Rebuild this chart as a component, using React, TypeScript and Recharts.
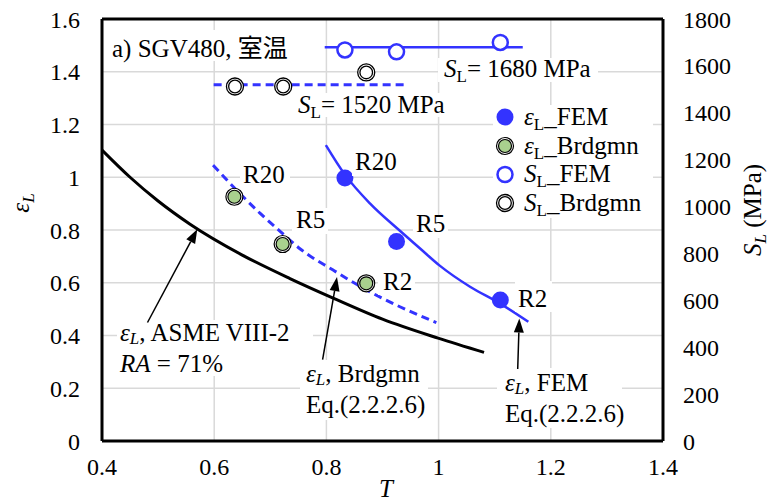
import React from 'react';
import { ComposedChart, Line, Scatter, XAxis, YAxis, CartesianGrid, ReferenceLine } from 'recharts';

const F = "'Liberation Serif', 'Times New Roman', 'Noto Sans CJK JP', serif";
const BLUE = '#3333FF';
const GREEN = '#A9D18E';

const xTicks = [0.4, 0.6, 0.8, 1, 1.2, 1.4];
const leftTicks = [0, 0.2, 0.4, 0.6, 0.8, 1, 1.2, 1.4, 1.6];
const rightTicks = [0, 200, 400, 600, 800, 1000, 1200, 1400, 1600, 1800];

// ASME VIII-2 curve (RA = 71%)
const asmeCurve = [
  { T: 0.4, eps: 1.103 },
  { T: 0.45, eps: 1.0 },
  { T: 0.5, eps: 0.91 },
  { T: 0.557, eps: 0.822 },
  { T: 0.65, eps: 0.705 },
  { T: 0.735, eps: 0.616 },
  { T: 0.812, eps: 0.542 },
  { T: 0.9, eps: 0.462 },
  { T: 0.999, eps: 0.39 },
  { T: 1.081, eps: 0.336 },
];

// Brdgmn Eq.(2.2.2.6) curve
const brdgmnCurve = [
  { T: 0.598, eps: 1.046 },
  { T: 0.634, eps: 0.964 },
  { T: 0.682, eps: 0.863 },
  { T: 0.718, eps: 0.794 },
  { T: 0.754, eps: 0.727 },
  { T: 0.812, eps: 0.648 },
  { T: 0.872, eps: 0.572 },
  { T: 0.931, eps: 0.509 },
  { T: 0.996, eps: 0.449 },
];

// FEM Eq.(2.2.2.6) curve
const femCurve = [
  { T: 0.799, eps: 1.122 },
  { T: 0.833, eps: 1.01 },
  { T: 0.878, eps: 0.9 },
  { T: 0.931, eps: 0.797 },
  { T: 0.967, eps: 0.73 },
  { T: 1.002, eps: 0.665 },
  { T: 1.056, eps: 0.585 },
  { T: 1.109, eps: 0.522 },
  { T: 1.16, eps: 0.452 },
];

const femPoints = [
  { T: 0.833, eps: 0.997 },
  { T: 0.925, eps: 0.756 },
  { T: 1.11, eps: 0.535 },
];
const brdgmnPoints = [
  { T: 0.636, eps: 0.926 },
  { T: 0.722, eps: 0.747 },
  { T: 0.871, eps: 0.598 },
];
const slFemPoints = [
  { T: 0.833, SL: 1668 },
  { T: 0.925, SL: 1660 },
  { T: 1.11, SL: 1700 },
];
const slBrdgmnPoints = [
  { T: 0.637, SL: 1512 },
  { T: 0.723, SL: 1512 },
  { T: 0.871, SL: 1572 },
];
const slFemLine = [
  { T: 0.797, SL: 1680 },
  { T: 1.15, SL: 1680 },
];
const slBrdgmnLine = [
  { T: 0.599, SL: 1520 },
  { T: 0.946, SL: 1520 },
];

const FemDot = (p: any) => <circle cx={p.cx} cy={p.cy} r={8.5} fill={BLUE} />;
const BrdgmnDot = (p: any) => (
  <g>
    <circle cx={p.cx} cy={p.cy} r={8.5} fill="#fff" stroke="#000" strokeWidth={1.2} />
    <circle cx={p.cx} cy={p.cy} r={6.5} fill={GREEN} stroke="#000" strokeWidth={1.2} />
  </g>
);
const SlFemDot = (p: any) => (
  <circle cx={p.cx} cy={p.cy} r={7.5} fill="#fff" stroke={BLUE} strokeWidth={2.5} />
);
const SlBrdgmnDot = (p: any) => (
  <g>
    <circle cx={p.cx} cy={p.cy} r={8.5} fill="#fff" stroke="#000" strokeWidth={1.3} />
    <circle cx={p.cx} cy={p.cy} r={6.3} fill="#fff" stroke="#000" strokeWidth={1.3} />
  </g>
);

function Arrow({ x1, y1, x2, y2 }: { x1: number; y1: number; x2: number; y2: number }) {
  const a = Math.atan2(y2 - y1, x2 - x1);
  const L = 14;
  const W = 5;
  const bx = x2 - L * Math.cos(a);
  const by = y2 - L * Math.sin(a);
  const px = -Math.sin(a) * W;
  const py = Math.cos(a) * W;
  return (
    <g>
      <line x1={x1} y1={y1} x2={bx} y2={by} stroke="#000" strokeWidth={1.5} />
      <polygon points={`${x2},${y2} ${bx + px},${by + py} ${bx - px},${by - py}`} fill="#000" />
    </g>
  );
}

const tickStyle = { fontSize: 24, fill: '#000', fontFamily: F };
const fmt = (v: number) => String(v);
const SUB = 17;

export default function App() {
  return (
    <div style={{ position: 'absolute', left: 0, top: 0, width: 769, height: 502, background: '#fff' }}>
      <ComposedChart
        width={769}
        height={502}
        margin={{ top: 19, right: 0, left: 0, bottom: 0 }}
        style={{ position: 'absolute', left: 0, top: 0 }}
      >
        <CartesianGrid yAxisId="L" stroke="#d9d9d9" strokeWidth={1.5} />
        <XAxis
          dataKey="T"
          type="number"
          domain={[0.4, 1.4]}
          ticks={xTicks}
          tickFormatter={fmt}
          height={61}
          tickSize={0}
          tickMargin={17}
          tick={tickStyle}
          axisLine={{ stroke: '#000', strokeWidth: 3 }}
          tickLine={false}
          allowDataOverflow
        />
        <YAxis
          yAxisId="L"
          type="number"
          domain={[0, 1.6]}
          ticks={leftTicks}
          tickFormatter={fmt}
          width={102}
          tickSize={0}
          tickMargin={22}
          tick={tickStyle}
          axisLine={{ stroke: '#000', strokeWidth: 3 }}
          tickLine={false}
          allowDataOverflow
        />
        <YAxis
          yAxisId="R"
          orientation="right"
          type="number"
          domain={[0, 1800]}
          ticks={rightTicks}
          tickFormatter={fmt}
          width={106}
          tickSize={0}
          tickMargin={20}
          tick={{ ...tickStyle, textAnchor: 'start' }}
          axisLine={{ stroke: '#000', strokeWidth: 3 }}
          tickLine={false}
          allowDataOverflow
        />
        <ReferenceLine yAxisId="L" y={1.6} stroke="#000" strokeWidth={3} />
        <Line data={asmeCurve} dataKey="eps" yAxisId="L" type="monotone" stroke="#000" strokeWidth={3} dot={false} activeDot={false} isAnimationActive={false} />
        <Line data={brdgmnCurve} dataKey="eps" yAxisId="L" type="monotone" stroke={BLUE} strokeWidth={3} strokeDasharray="8 5" dot={false} activeDot={false} isAnimationActive={false} />
        <Line data={femCurve} dataKey="eps" yAxisId="L" type="monotone" stroke={BLUE} strokeWidth={2.5} dot={false} activeDot={false} isAnimationActive={false} />
        <Line data={slFemLine} dataKey="SL" yAxisId="R" type="linear" stroke={BLUE} strokeWidth={2.5} dot={false} activeDot={false} isAnimationActive={false} />
        <Line data={slBrdgmnLine} dataKey="SL" yAxisId="R" type="linear" stroke={BLUE} strokeWidth={3} strokeDasharray="8 5" dot={false} activeDot={false} isAnimationActive={false} />
        <Scatter data={femPoints} dataKey="eps" yAxisId="L" shape={FemDot} isAnimationActive={false} />
        <Scatter data={brdgmnPoints} dataKey="eps" yAxisId="L" shape={BrdgmnDot} isAnimationActive={false} />
        <Scatter data={slFemPoints} dataKey="SL" yAxisId="R" shape={SlFemDot} isAnimationActive={false} />
        <Scatter data={slBrdgmnPoints} dataKey="SL" yAxisId="R" shape={SlBrdgmnDot} isAnimationActive={false} />
      </ComposedChart>
      <svg
        width={769}
        height={502}
        style={{ position: 'absolute', left: 0, top: 0, pointerEvents: 'none' }}
        fontFamily={F}
        fontSize={25}
      >
        {/* white label backgrounds */}
        <g fill="#fff">
          <rect x={108} y={30} width={186} height={31} />
          <rect x={438} y={58} width={160} height={24} />
          <rect x={293} y={93} width={158} height={24} />
          <rect x={493} y={105} width={160} height={113} />
          <rect x={240} y={164} width={50} height={24} />
          <rect x={292} y={208} width={36} height={26} />
          <rect x={378} y={271} width={37} height={24} />
          <rect x={352} y={152} width={46} height={24} />
          <rect x={413} y={215} width={35} height={23} />
          <rect x={515} y={281} width={37} height={31} />
          <rect x={117} y={320} width={196} height={56} />
          <rect x={300} y={360} width={128} height={60} />
          <rect x={497} y={368} width={125} height={60} />
        </g>
        <text x={112} y={57}>a) SGV480, 室温</text>
        <text x={444} y={77}>
          <tspan fontStyle="italic">S</tspan>
          <tspan fontSize={SUB} dy={5}>L</tspan>
          <tspan dy={-5}>= 1680 MPa</tspan>
        </text>
        <text x={298} y={113}>
          <tspan fontStyle="italic">S</tspan>
          <tspan fontSize={SUB} dy={5}>L</tspan>
          <tspan dy={-5}>= 1520 MPa</tspan>
        </text>

        {/* legend */}
        <FemDot cx={505} cy={117} />
        <BrdgmnDot cx={505} cy={146} />
        <SlFemDot cx={505} cy={174.5} />
        <SlBrdgmnDot cx={505} cy={203} />
        <text x={524} y={125}>
          <tspan fontStyle="italic">ε</tspan>
          <tspan fontSize={SUB} dy={5}>L</tspan>
          <tspan dy={-5}>_FEM</tspan>
        </text>
        <text x={524} y={154}>
          <tspan fontStyle="italic">ε</tspan>
          <tspan fontSize={SUB} dy={5}>L</tspan>
          <tspan dy={-5}>_Brdgmn</tspan>
        </text>
        <text x={524} y={182}>
          <tspan fontStyle="italic">S</tspan>
          <tspan fontSize={SUB} dy={5}>L</tspan>
          <tspan dy={-5}>_FEM</tspan>
        </text>
        <text x={524} y={211}>
          <tspan fontStyle="italic">S</tspan>
          <tspan fontSize={SUB} dy={5}>L</tspan>
          <tspan dy={-5}>_Brdgmn</tspan>
        </text>

        {/* point labels */}
        <text x={243} y={183}>R20</text>
        <text x={296} y={228}>R5</text>
        <text x={383} y={290}>R2</text>
        <text x={355} y={170}>R20</text>
        <text x={416} y={232}>R5</text>
        <text x={518} y={307}>R2</text>

        {/* annotations */}
        <text x={120} y={341}>
          <tspan fontStyle="italic">ε</tspan>
          <tspan fontStyle="italic" fontSize={SUB} dy={3}>L</tspan>
          <tspan dy={-3}>, ASME VIII-2</tspan>
        </text>
        <text x={120} y={372}>
          <tspan fontStyle="italic">RA</tspan>
          <tspan> = 71%</tspan>
        </text>
        <text x={306} y={382}>
          <tspan fontStyle="italic">ε</tspan>
          <tspan fontStyle="italic" fontSize={SUB} dy={3}>L</tspan>
          <tspan dy={-3}>, Brdgmn</tspan>
        </text>
        <text x={306} y={413}>Eq.(2.2.2.6)</text>
        <text x={505} y={391}>
          <tspan fontStyle="italic">ε</tspan>
          <tspan fontStyle="italic" fontSize={SUB} dy={3}>L</tspan>
          <tspan dy={-3}>, FEM</tspan>
        </text>
        <text x={505} y={422}>Eq.(2.2.2.6)</text>
        <Arrow x1={147.5} y1={322.5} x2={197.3} y2={229.3} />
        <Arrow x1={322.6} y1={359.7} x2={337} y2={277} />
        <Arrow x1={517.7} y1={369} x2={519.3} y2={318.5} />

        {/* axis titles */}
        <text x={386} y={497} textAnchor="middle" fontStyle="italic">T</text>
        <text transform="translate(29,203) rotate(-90)" textAnchor="middle">
          <tspan fontStyle="italic">ε</tspan>
          <tspan fontStyle="italic" fontSize={SUB} dy={5}>L</tspan>
        </text>
        <text transform="translate(761,210) rotate(-90)" textAnchor="middle">
          <tspan fontStyle="italic">S</tspan>
          <tspan fontStyle="italic" fontSize={SUB} dy={5}>L</tspan>
          <tspan dy={-5}> (MPa)</tspan>
        </text>
      </svg>
    </div>
  );
}
